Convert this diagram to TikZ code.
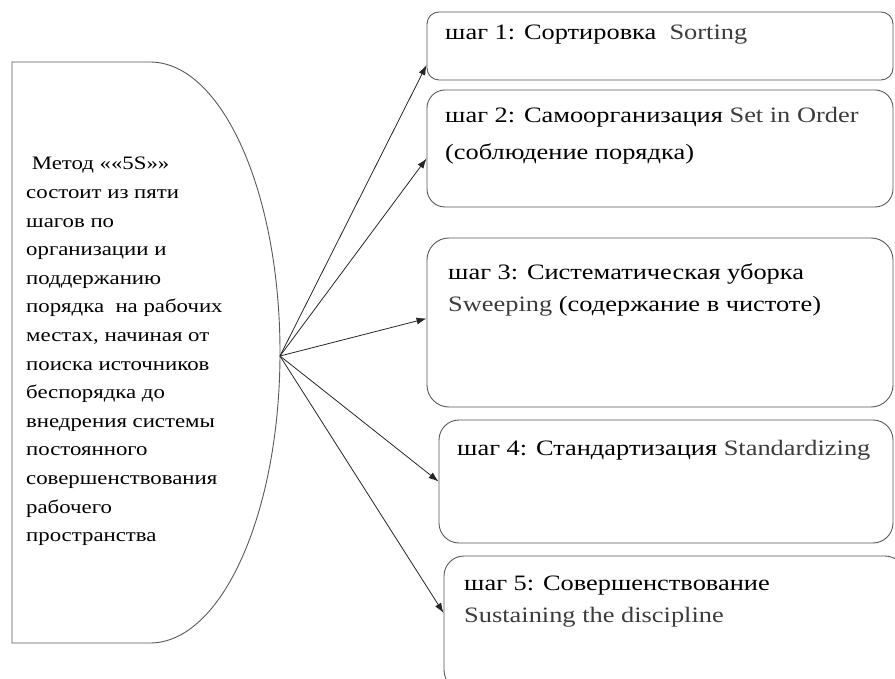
\documentclass[tikz,border=0pt]{standalone}
\usepackage{fontspec}
\setmainfont{Liberation Serif}[FakeStretch=1.2]
\usepackage{tikz}
\usetikzlibrary{arrows.meta,positioning}

\definecolor{engray}{RGB}{60,60,60}
\newcommand{\en}[1]{\textcolor{engray}{#1}}
\newcommand{\lines}[1]{\begin{tabular}[t]{@{}l@{}}#1\end{tabular}}

\tikzset{
  stepbox/.style={draw=black!65, line width=0.9pt, inner sep=0pt},
  steptext/.style={anchor=base west, inner sep=0pt,
    font=\fontsize{22}{32}\selectfont},
  arr/.style={-{Latex[length=10pt,width=7pt]}, line width=0.8pt, draw=black!85}
}

\begin{document}
\begin{tikzpicture}[x=1pt,y=1pt]
  \useasboundingbox (0,0) rectangle (895,-679);
  % left half-round block
  \draw[draw=black!65, line width=0.9pt] (12,-62) -- (150,-62)
    arc[start angle=90, end angle=-90, x radius=130, y radius=290.5] -- (12,-643) -- cycle;
  \node[anchor=base west, inner sep=0pt,
    font=\fontsize{19}{28.6}\selectfont] (intro) at (26,-170)
    {\lines{\ Метод ««5S»»\\состоит из пяти\\шагов по\\организации и\\поддержанию\\
     порядка\ \ на рабочих\\местах, начиная от\\поиска источников\\беспорядка до\\
     внедрения системы\\постоянного\\совершенствования\\рабочего\\пространства}};
  \coordinate (hub) at (280,-356);

  % step boxes
  \node[stepbox, rounded corners=12pt, minimum width=466pt, minimum height=68pt] (s1) at (660,-46) {};
  \node[stepbox, rounded corners=18pt, minimum width=466pt, minimum height=117pt] (s2) at (660,-148.5) {};
  \node[stepbox, rounded corners=22pt, minimum width=466pt, minimum height=169pt] (s3) at (660,-322.5) {};
  \node[stepbox, rounded corners=20pt, minimum width=454pt, minimum height=123pt] (s4) at (666,-481.5) {};
  \node[stepbox, rounded corners=20pt, minimum width=461pt, minimum height=134pt] (s5) at (674.5,-623) {};

  % texts of the steps
  \node[steptext] (t1) at (445,-40) {шаг 1: Сортировка\ \ \en{Sorting}};
  \node[steptext] (t2) at (445,-123) {\lines{шаг 2: Самоорганизация \en{Set in Order}\\[5pt](соблюдение порядка)}};
  \node[steptext] (t3) at (448,-280) {\lines{шаг 3: Систематическая уборка\\\en{Sweeping} (содержание в чистоте)}};
  \node[steptext] (t4) at (457,-455) {шаг 4: Стандартизация \en{Standardizing}};
  \node[steptext] (t5) at (464,-590) {\lines{шаг 5: Совершенствование\\\en{Sustaining the discipline}}};

  % arrows
  \draw[arr] (hub) -- ([yshift=-19pt]s1.west);
  \draw[arr] (hub) -- ([yshift=-10pt]s2.west);
  \draw[arr] (hub) -- ([yshift=4pt]s3.west);
  \draw[arr] (hub) -- (s4.west);
  \draw[arr] (hub) -- ([yshift=10pt]s5.west);
\end{tikzpicture}
\end{document}
